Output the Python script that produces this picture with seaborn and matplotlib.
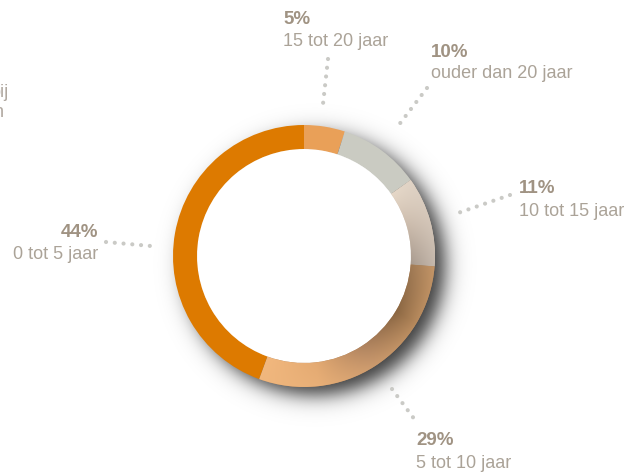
import numpy as np
import matplotlib.pyplot as plt
import seaborn as sns
from matplotlib.patches import Circle
from matplotlib.colors import to_rgb

# Data: share of the fleet per age group (clockwise from 12 o'clock)
shares = [5, 10, 11, 29, 44]
pct_labels = ["5%", "10%", "11%", "29%", "44%"]
age_labels = ["15 tot 20 jaar", "ouder dan 20 jaar", "10 tot 15 jaar",
              "5 tot 10 jaar", "0 tot 5 jaar"]
colors = ["#E9A058", "#CACBC2", "#D9CABA", "#B08660", "#DD7A00"]

sns.set_style("white")
plt.rcParams["font.family"] = ["Liberation Sans", "DejaVu Sans"]

W, H = 641, 475
fig = plt.figure(figsize=(6.41, 4.75), dpi=100)
ax = fig.add_axes([0, 0, 1, 1])

cx, cy, R, ring = 304, H - 256, 131, 24

# soft drop shadow behind the ring (offset to lower right)
xx, yy = np.meshgrid(np.arange(W) + 0.5, np.arange(H) + 0.5)
d = np.hypot(xx - (cx + 11), yy - (cy - 9))
shadow = np.zeros((H, W, 4))
shadow[..., 3] = 0.78 / (1 + np.exp((d - R + 1) / 6))
ax.imshow(shadow, extent=(0, W, 0, H), origin="lower", zorder=0.5)

wedges, _ = ax.pie(shares, colors=colors, startangle=90, counterclock=False,
                   center=(cx, cy), radius=R,
                   wedgeprops=dict(width=ring, linewidth=0, zorder=2))
ax.add_patch(Circle((cx, cy), R - ring, color="white", zorder=1.5))

# gradient fills for the two shaded segments
theta = np.degrees(np.arctan2(xx - cx, yy - cy)) % 360   # clockwise from top
rad = np.clip((np.hypot(xx - cx, yy - cy) - (R - ring)) / ring, 0, 1)
bounds = np.cumsum([0] + shares) / sum(shares) * 360


def grad_fill(idx, stops, outer, mix):
    t = np.clip((theta - bounds[idx]) / (bounds[idx + 1] - bounds[idx]), 0, 1)
    pal = np.array([to_rgb(c) for c in stops])
    pos = np.linspace(0, 1, len(pal))
    base = np.stack([np.interp(t, pos, pal[:, k]) for k in range(3)], -1)
    out = np.array(to_rgb(outer))
    m = (mix * rad)[..., None]
    img = base * (1 - m) + out * m
    im = ax.imshow(img, extent=(0, W, 0, H), origin="lower", zorder=2.5)
    im.set_clip_path(wedges[idx])


grad_fill(2, ["#E6D8C8", "#C9B9AA", "#A89A8E"], "#DCD0C4", 0.55)
grad_fill(3, ["#A07A55", "#8A6642", "#B08460", "#E4AA72", "#F2B87E"], "#EEB67E", 0.45)

# leader dots
leaders = [((328, 59), (323, 104)), ((427, 88), (398, 126)),
           ((510, 195), (458, 213)), ((392, 389), (415, 420)),
           ((106, 242), (151, 246))]
for (x0, y0), (x1, y1) in leaders:
    ax.plot([x0, x1], [H - y0, H - y1], color="#CACAC6", lw=3,
            linestyle=(0, (0.01, 2.1)), dash_capstyle="round", zorder=3)

# labels: (x, baseline of percent, baseline of label, alignment)
label_pos = [(283, 24, 46, "left"), (431, 57, 78, "left"),
             (519, 193, 216, "left"), (416, 445, 468, "left"),
             (98, 237, 259, "right")]
for (x, y1, y2, ha), p, a in zip(label_pos, pct_labels, age_labels):
    ax.text(x, H - y1, p, ha=ha, va="baseline", fontsize=13.5,
            fontweight="bold", color="#A09383", zorder=4)
    ax.text(x, H - y2, a, ha=ha, va="baseline", fontsize=13,
            color="#ABA398", zorder=4)

# text cut off at the left edge
ax.text(9, H - 97, "bij", ha="right", va="baseline", fontsize=13, color="#B0A8A0")
ax.text(4, H - 117, "en", ha="right", va="baseline", fontsize=13, color="#B0A8A0")

ax.set_xlim(0, W)
ax.set_ylim(0, H)
ax.set_aspect("equal")
ax.axis("off")

fig.savefig("out.png", dpi=100)
